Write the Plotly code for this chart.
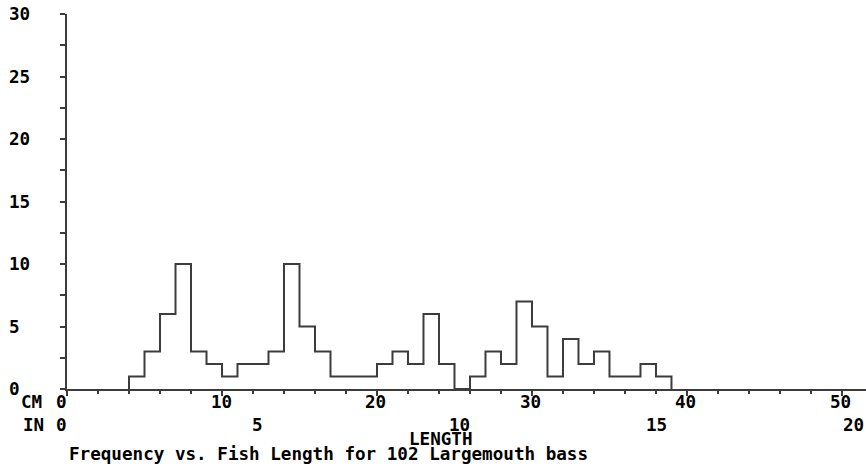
import plotly.graph_objects as go

# ---- data ----
bin_starts_cm = list(range(4, 39))  # 1-cm bins from 4 cm to 39 cm
counts = [1, 3, 6, 10, 3, 2, 1, 2, 2, 3,
          10, 5, 3, 1, 1, 1, 2, 3, 2, 6,
          2, 0, 1, 3, 2, 7, 5, 1, 4, 2,
          3, 1, 1, 2, 1]
bin_width_cm = 1

y_tick_vals = [0, 5, 10, 15, 20, 25, 30]
y_tick_text = ["0", "5", "10", "15", "20", "25", "30"]
cm_tick_vals = [0, 10, 20, 30, 40, 50]
cm_tick_text = ["0", "10", "20", "30", "40", "50"]
in_tick_vals = [0, 5, 10, 15, 20]
in_tick_text = ["0", "5", "10", "15", "20"]
in_minor = list(range(1, 21))
CM_PER_IN = 2.54

title_text = "Frequency vs. Fish Length for 102 Largemouth bass"
xlabel_text = "LENGTH"

FONT = "DejaVu Sans Mono"
FS = 17.6
LINE = "#3c3c3c"

# step outline of the histogram
xs = [bin_starts_cm[0]] + bin_starts_cm + [bin_starts_cm[-1] + bin_width_cm]
ys = [0] + counts + [0]

fig = go.Figure()
fig.add_trace(go.Scatter(
    x=xs, y=ys, mode="lines", line=dict(shape="hv", color=LINE, width=2),
    hoverinfo="skip", showlegend=False))

# inch minor marks below the cm axis
fig.add_trace(go.Scatter(
    x=[i * CM_PER_IN for i in in_minor], y=[-1.7] * len(in_minor),
    mode="markers", marker=dict(symbol="square", size=2, color=LINE),
    cliponaxis=False, hoverinfo="skip", showlegend=False))
fig.add_trace(go.Scatter(
    x=[0, 10 * CM_PER_IN], y=[-1.7, -1.7],
    mode="markers", marker=dict(symbol="line-ns", size=5,
                                line=dict(color=LINE, width=1.5)),
    cliponaxis=False, hoverinfo="skip", showlegend=False))

ann = []
tf = dict(family=FONT, size=FS, color="black", weight="bold")
for v, t in zip(y_tick_vals, y_tick_text):
    ann.append(dict(x=0, xref="paper", y=v, yref="y", text=t, showarrow=False,
                    xanchor="left", yanchor="middle", xshift=-60, font=tf))
for v, t in zip(cm_tick_vals, cm_tick_text):
    ann.append(dict(x=v, xref="x", y=0, yref="y", text=t, showarrow=False,
                    xanchor="center", yanchor="middle", yshift=-13,
                    xshift=-6 if len(t) == 1 else -1, font=tf))
for v, t in zip(in_tick_vals, in_tick_text):
    ann.append(dict(x=v * CM_PER_IN, xref="x", y=0, yref="y", text=t,
                    showarrow=False, xanchor="center", yanchor="middle",
                    yshift=-36, xshift=-6 if len(t) == 1 else -1, font=tf))
ann.append(dict(x=0, xref="paper", y=0, yref="y", text="CM", showarrow=False,
                xanchor="left", yanchor="middle", yshift=-13, xshift=-48, font=tf))
ann.append(dict(x=0, xref="paper", y=0, yref="y", text="IN", showarrow=False,
                xanchor="left", yanchor="middle", yshift=-36, xshift=-46, font=tf))
ann.append(dict(x=24.13, xref="x", y=0, yref="y", text=xlabel_text,
                showarrow=False, xanchor="center", yanchor="middle",
                yshift=-50, font=tf))
ann.append(dict(x=0, xref="x", y=0, yref="y", text=title_text,
                showarrow=False, xanchor="left", yanchor="middle",
                yshift=-65, xshift=0, font=tf))

fig.update_layout(
    width=866, height=469,
    margin=dict(l=67, r=0, t=14, b=80),
    paper_bgcolor="white", plot_bgcolor="white",
    annotations=ann,
    xaxis=dict(range=[0, 51.55], showgrid=False, zeroline=False,
               showline=True, linecolor=LINE, linewidth=2,
               ticks="outside", tickvals=cm_tick_vals, ticklen=5,
               tickwidth=2, tickcolor=LINE, showticklabels=False,
               minor=dict(dtick=2, ticks="outside", ticklen=3,
                          tickwidth=2, tickcolor=LINE, showgrid=False)),
    yaxis=dict(range=[0, 30], showgrid=False, zeroline=False,
               showline=True, linecolor=LINE, linewidth=2,
               ticks="outside", dtick=2.5, tick0=0, ticklen=5,
               tickwidth=2, tickcolor=LINE, showticklabels=False),
)

fig.write_html("out.html")
